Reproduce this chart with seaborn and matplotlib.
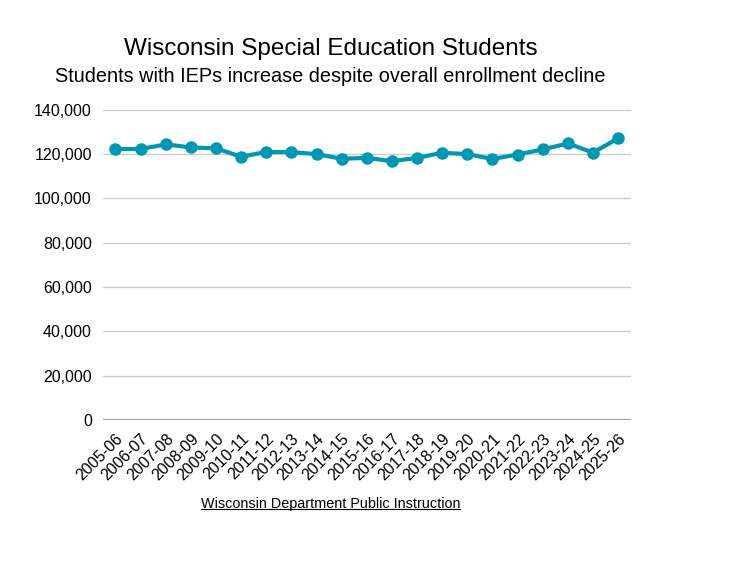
import pandas as pd
import numpy as np
import matplotlib.pyplot as plt
import seaborn as sns

years = ['2005-06', '2006-07', '2007-08', '2008-09', '2009-10', '2010-11', '2011-12',
         '2012-13', '2013-14', '2014-15', '2015-16', '2016-17', '2017-18', '2018-19',
         '2019-20', '2020-21', '2021-22', '2022-23', '2023-24', '2024-25', '2025-26']
students = [122300, 122300, 124400, 123000, 122600, 118800, 121000,
            120900, 120000, 117900, 118300, 116800, 118300, 120600,
            120000, 117800, 119800, 122100, 124800, 120700, 127100]

df = pd.DataFrame({'Year': years, 'Students': students})
df['pos'] = np.arange(len(df))

sns.set_style('white')
plt.rcParams['font.family'] = ['Liberation Sans', 'DejaVu Sans']
plt.rcParams['text.color'] = 'black'
plt.rcParams['xtick.color'] = 'black'
plt.rcParams['ytick.color'] = 'black'

fig = plt.figure(figsize=(7.3, 5.66), dpi=100)
ax = fig.add_axes([0.141, 0.258, 0.723, 0.548])

sns.lineplot(x='pos', y='Students', data=df, ax=ax, color='#0097b2',
             linewidth=3, marker='o', markersize=9, markeredgewidth=0, zorder=3)

ax.set_xlim(-0.5, len(years) - 0.5)
ax.set_ylim(0, 140000)
ax.set_yticks(range(0, 140001, 20000))
ax.set_yticklabels([f'{v:,}' for v in range(0, 140001, 20000)], fontsize=11.5)
ax.set_xticks(df['pos'])
ax.set_xticklabels(years, rotation=45, ha='right', rotation_mode='anchor', fontsize=11.5)
ax.tick_params(axis='both', length=0, pad=8)
ax.grid(axis='y', color='#cccccc', linewidth=1)
ax.axhline(0, color='#999999', linewidth=1.5, zorder=2)
sns.despine(ax=ax, left=True, bottom=True)
ax.set_xlabel('')
ax.set_ylabel('')

fig.text(0.453, 0.914, 'Wisconsin Special Education Students', ha='center', va='center', fontsize=17.5)
fig.text(0.453, 0.864, 'Students with IEPs increase despite overall enrollment decline',
         ha='center', va='center', fontsize=14.3)
fig.text(0.453, 0.110, 'Wisconsin Department Public Instruction', ha='center', va='center',
         fontsize=10.4)
fig.add_artist(plt.Line2D([0.276, 0.630], [0.1, 0.1], color='black', linewidth=0.8))

plt.savefig('out.png', dpi=100)
